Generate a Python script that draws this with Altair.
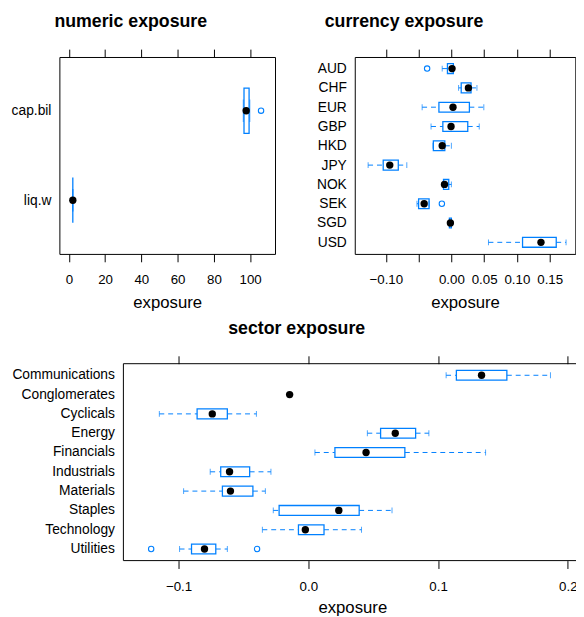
import altair as alt
import pandas as pd

BLUE = "#0080ff"
FONT = "Liberation Sans"

# ---------------- numeric exposure ----------------
num_cat = ["cap.bil", "liq.w"]
num_low = [96.2, 2.2]
num_q1 = [96.6, 2.2]
num_med = [97.8, 2.2]
num_q3 = [99.4, 2.2]
num_hi = [99.8, 2.2]
num_out_cat = ["cap.bil"]
num_out_val = [106.0]

# ---------------- currency exposure ----------------
cur_cat = ["AUD", "CHF", "EUR", "GBP", "HKD", "JPY", "NOK", "SEK", "SGD", "USD"]
cur_low = [-0.014, 0.011, -0.0446, -0.031, -0.028, -0.127, -0.013, -0.0525, -0.004, 0.0566]
cur_q1 = [-0.006, 0.015, -0.019, -0.013, -0.0275, -0.104, -0.012, -0.050, -0.003, 0.1086]
cur_med = [0.001, 0.026, 0.0025, -0.0005, -0.014, -0.094, -0.0105, -0.0415, -0.0015, 0.1367]
cur_q3 = [0.003, 0.030, 0.0275, 0.025, -0.010, -0.081, -0.004, -0.034, 0.000, 0.160]
cur_hi = [0.004, 0.039, 0.0495, 0.0425, 0.0, -0.068, 0.0, -0.034, 0.001, 0.175]
cur_out_cat = ["AUD", "SEK"]
cur_out_val = [-0.037, -0.0145]

# ---------------- sector exposure ----------------
sec_cat = ["Communications", "Conglomerates", "Cyclicals", "Energy", "Financials",
           "Industrials", "Materials", "Staples", "Technology", "Utilities"]
sec_low = [0.1062, None, -0.1148, 0.0455, 0.0051, -0.0756, -0.0961, -0.027, -0.0354, -0.0992]
sec_q1 = [0.1141, None, -0.0857, 0.0557, 0.0205, -0.0675, -0.0662, -0.0225, -0.0076, -0.090]
sec_med = [0.1335, -0.0144, -0.074, 0.067, 0.0445, -0.0607, -0.060, 0.0235, -0.0023, -0.080]
sec_q3 = [0.153, None, -0.0624, 0.0827, 0.0744, -0.0452, -0.0427, 0.0392, 0.0121, -0.0713]
sec_hi = [0.1866, None, -0.040, 0.0929, 0.1366, -0.0288, -0.0331, 0.0645, 0.041, -0.0624]
sec_out_cat = ["Utilities", "Utilities"]
sec_out_val = [-0.1211, -0.0395]

TICK_FS = 13.5
YLAB_FS = 14


def panel(cats, low, q1, med, q3, hi, out_cat, out_val, domain, width, ticks,
          fmt, box_h, cap_h, title, title_dx, title_pad, label_expr=None,
          x_range=None):
    """x_range: if given, plot area is only this pixel span of the view, and the
    category labels are drawn as text to its left (used to offset the wide panel)."""
    df = pd.DataFrame({"cat": cats, "low": low, "q1": q1, "med": med, "q3": q3, "hi": hi})
    odf = pd.DataFrame({"cat": out_cat, "val": out_val})
    base = alt.Chart(df)
    yscale = alt.Scale(type="point", padding=0.6, domain=cats)
    if x_range is None:
        xscale = alt.Scale(domain=domain, nice=False, zero=False)
        y_axis = alt.Axis(title=None, ticks=False, domain=False, labelPadding=8.6,
                          labelFontSize=YLAB_FS, labelColor="black", grid=False,
                          labelLimit=300)
    else:
        xscale = alt.Scale(domain=domain, nice=False, zero=False, range=x_range)
        y_axis = None
    bottom_kwargs = dict(orient="bottom", title="exposure", values=ticks, format=fmt,
                         tickSize=8, tickColor="black", domain=False, grid=False,
                         labelFontSize=TICK_FS, labelColor="black", labelPadding=11,
                         titleFontSize=17, titleFontWeight="normal", titleColor="black",
                         titlePadding=title_pad, labelFlush=False, labelOverlap=False)
    if label_expr:
        bottom_kwargs["labelExpr"] = label_expr
    bottom_axis = alt.Axis(**bottom_kwargs)
    top_axis = alt.Axis(orient="top", title=None, labels=False, values=ticks,
                        tickSize=8, tickColor="black", domain=False, grid=False)

    def Y():
        return alt.Y("cat:N", scale=yscale, axis=y_axis, sort=cats)

    layers = []
    if x_range is not None:
        frame = alt.Chart(pd.DataFrame({"lo": [domain[0]], "hi": [domain[1]]})).mark_rect(
            fillOpacity=0, stroke="black", strokeWidth=1).encode(
            x=alt.X("lo:Q", scale=xscale, axis=None), x2="hi:Q",
            y=alt.value(0), y2=alt.value(200))
        labels = base.mark_text(align="right", baseline="middle", fontSize=YLAB_FS,
                                color="black", font=FONT).encode(
            text="cat:N", x=alt.value(x_range[0] - 8.6), y=Y())
        layers += [frame, labels]

    w_low = base.mark_rule(color=BLUE, strokeDash=[5, 4], strokeWidth=1).encode(
        x=alt.X("low:Q", scale=xscale, axis=bottom_axis), x2="q1:Q", y=Y())
    w_hi = base.mark_rule(color=BLUE, strokeDash=[5, 4], strokeWidth=1).encode(
        x=alt.X("q3:Q", scale=xscale, axis=None), x2="hi:Q", y=Y())
    cap_lo = base.mark_tick(color=BLUE, size=cap_h, thickness=1, orient="vertical").encode(
        x=alt.X("low:Q", scale=xscale, axis=None), y=Y())
    cap_hi = base.mark_tick(color=BLUE, size=cap_h, thickness=1, orient="vertical").encode(
        x=alt.X("hi:Q", scale=xscale, axis=None), y=Y())
    box = base.mark_bar(size=box_h, fillOpacity=0, stroke=BLUE, strokeWidth=1.3,
                        orient="horizontal").encode(
        x=alt.X("q1:Q", scale=xscale, axis=None), x2="q3:Q", y=Y())
    outl = alt.Chart(odf).mark_point(shape="circle", filled=False, size=30, color=BLUE,
                                     strokeWidth=1.1, opacity=1).encode(
        x=alt.X("val:Q", scale=xscale, axis=None), y=Y())
    medp = base.mark_circle(size=56, color="black", opacity=1).encode(
        x=alt.X("med:Q", scale=xscale, axis=top_axis), y=Y())
    layers += [w_low, w_hi, cap_lo, cap_hi, box, outl, medp]

    props = dict(width=width, height=200,
                 title=alt.TitleParams(title, fontSize=18, fontWeight="bold", color="black",
                                       anchor="middle", frame="group", dx=title_dx,
                                       offset=4, baseline="alphabetic"))
    if x_range is not None:
        props["view"] = alt.ViewBackground(stroke="transparent")
    return alt.layer(*layers).resolve_axis(x="independent").properties(**props)


numeric = panel(num_cat, num_low, num_q1, num_med, num_q3, num_hi, num_out_cat, num_out_val,
                [-5.2, 113.7], 219, [0, 20, 40, 60, 80, 100], "d", 46, 23,
                "numeric exposure", -37, 9)
currency = panel(cur_cat, cur_low, cur_q1, cur_med, cur_q3, cur_hi, cur_out_cat, cur_out_val,
                 [-0.1474, 0.1891], 224, [-0.10, -0.05, 0.0, 0.05, 0.10, 0.15], ".2f", 10, 6,
                 "currency exposure", -62, 9,
                 label_expr="abs(datum.value + 0.05) < 0.001 ? '' : datum.label")
sector = panel(sec_cat, sec_low, sec_q1, sec_med, sec_q3, sec_hi, sec_out_cat, sec_out_val,
               [-0.1425, 0.2103], 530, [-0.1, 0.0, 0.1, 0.2], ".1f", 10, 6,
               "sector exposure", -24, 7, x_range=[65, 530])

top = alt.hconcat(numeric, currency, spacing=40)
chart = alt.vconcat(top, sector, spacing=8.5).properties(
    padding={"left": 2.2, "top": 0, "right": -6.3, "bottom": -4.5}
).configure(font=FONT).configure_view(stroke="black", strokeWidth=1).configure_axis(
    labelFont=FONT, titleFont=FONT)

chart.save("out.html", embed_options={"renderer": "svg", "actions": False})
